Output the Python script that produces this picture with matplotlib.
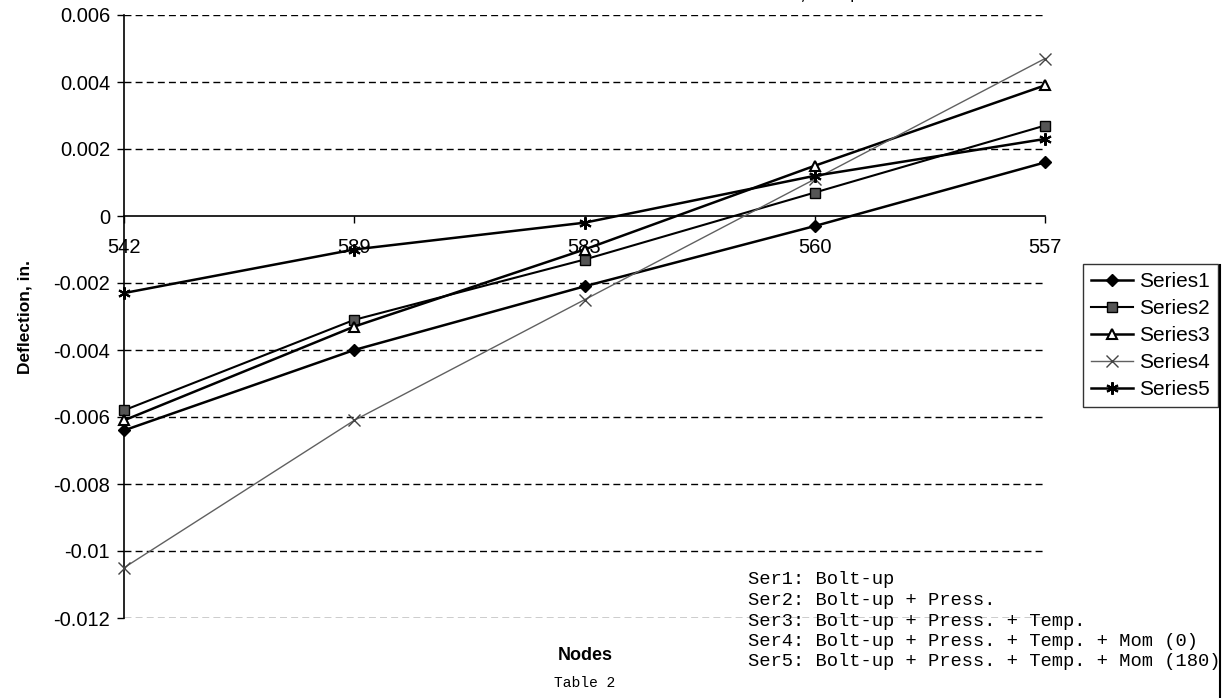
import matplotlib
matplotlib.use("Agg")
import matplotlib.pyplot as plt
from matplotlib.lines import Line2D

# Node labels along the flange and deflections (in.) for each load case
nodes = ["542", "589", "583", "560", "557"]
series1 = [-0.0064, -0.0040, -0.0021, -0.0003, 0.0016]
series2 = [-0.0058, -0.0031, -0.0013, 0.0007, 0.0027]
series3 = [-0.0061, -0.0033, -0.0010, 0.0015, 0.0039]
series4 = [-0.0105, -0.0061, -0.0025, 0.0011, 0.0047]
series5 = [-0.0023, -0.0010, -0.0002, 0.0012, 0.0023]
series_names = ["Series1", "Series2", "Series3", "Series4", "Series5"]
y_ticks = [0.006, 0.004, 0.002, 0, -0.002, -0.004, -0.006, -0.008, -0.01, -0.012]
y_tick_labels = ["0.006", "0.004", "0.002", "0", "-0.002", "-0.004", "-0.006",
                 "-0.008", "-0.01", "-0.012"]
case_notes = [
    "Ser1: Bolt-up",
    "Ser2: Bolt-up + Press.",
    "Ser3: Bolt-up + Press. + Temp.",
    "Ser4: Bolt-up + Press. + Temp. + Mom (0)",
    "Ser5: Bolt-up + Press. + Temp. + Mom (180)",
]

SANS = "Liberation Sans"
MONO = "Liberation Mono"

W, H = 1223, 698
fig = plt.figure(figsize=(W / 100, H / 100), dpi=100)

# axes box in pixel terms: x 124..1045, y 15..618
ax = fig.add_axes([124 / W, 1 - 618 / H, (1045 - 124) / W, (618 - 15) / H])
x = list(range(len(nodes)))

styles = [
    dict(color="black", lw=1.8, marker="D", ms=6.5, mfc="black", mec="black"),
    dict(color="black", lw=1.5, marker="s", ms=6.5, mfc="#555555", mec="black"),
    dict(color="black", lw=1.8, marker="^", ms=7, mfc="white", mec="black", mew=1.5),
    dict(color="#606060", lw=1.0, marker="x", ms=8, mec="#444444", mew=1.0),
    dict(color="black", lw=1.8, marker=(6, 2, 0), ms=9, mec="black", mew=1.5),
]
all_series = [series1, series2, series3, series4, series5]
for vals, name, st in zip(all_series, series_names, styles):
    ax.plot(x, vals, label=name, zorder=3, clip_on=False, **st)

ax.set_xlim(0, len(nodes) - 1)
ax.set_ylim(-0.012, 0.006)

# dashed horizontal gridlines at every tick except the zero axis
for yt in y_ticks:
    if yt != 0:
        ax.axhline(yt, color="black", lw=1.0, ls=(0, (5, 3)), zorder=1)

for side in ["top", "right"]:
    ax.spines[side].set_visible(False)
ax.spines["left"].set_linewidth(1.2)
ax.spines["bottom"].set_position(("data", 0))
ax.spines["bottom"].set_linewidth(1.2)

ax.set_yticks(y_ticks)
ax.set_yticklabels(y_tick_labels, fontfamily=SANS, fontsize=14.5)
ax.tick_params(axis="y", direction="out", length=5, width=1, pad=5)
ax.set_xticks(x)
ax.set_xticklabels(nodes, fontfamily=SANS, fontsize=14.5)
ax.tick_params(axis="x", direction="out", length=5, width=1, pad=11)

ax.set_ylabel("Deflection, in.", fontfamily=SANS, fontsize=12.5, fontweight="bold")
ax.yaxis.set_label_coords(-91 / (1045 - 124), 0.5)

fig.text(585 / W, 1 - 655 / H, "Nodes", fontfamily=SANS, fontsize=13,
         fontweight="bold", ha="center", va="center")
fig.text(585 / W, 1 - 683 / H, "Table 2", fontfamily=MONO, fontsize=10.5,
         ha="center", va="center")

# legend box to the right of the plot
handles = [Line2D([0], [0], label=n, **st) for n, st in zip(series_names, styles)]
leg = fig.legend(handles=handles, loc="upper left",
                 bbox_to_anchor=(1083 / W, 1 - 264 / H),
                 prop={"family": SANS, "size": 15}, frameon=True, fancybox=False,
                 handlelength=2.0, handletextpad=0.3, borderpad=0.4,
                 labelspacing=0.38, borderaxespad=0)
leg.get_frame().set_edgecolor("black")
leg.get_frame().set_linewidth(1.0)

# load-case notes
for i, line in enumerate(case_notes):
    fig.text(748 / W, 1 - (580 + i * 20.5) / H, line, fontfamily=MONO,
             fontsize=13.5, ha="left", va="center")

# partially visible heading at the top edge
fig.text(880 / W, 1 + 5 / H, "at 11,500 psi", fontfamily=MONO, fontsize=12,
         ha="right", va="center")

# page border line on the right
fig.add_artist(Line2D([1220 / W, 1220 / W], [0, 1 - 265 / H], color="black",
                      lw=1.5, transform=fig.transFigure))

fig.savefig("out.png", dpi=100)
